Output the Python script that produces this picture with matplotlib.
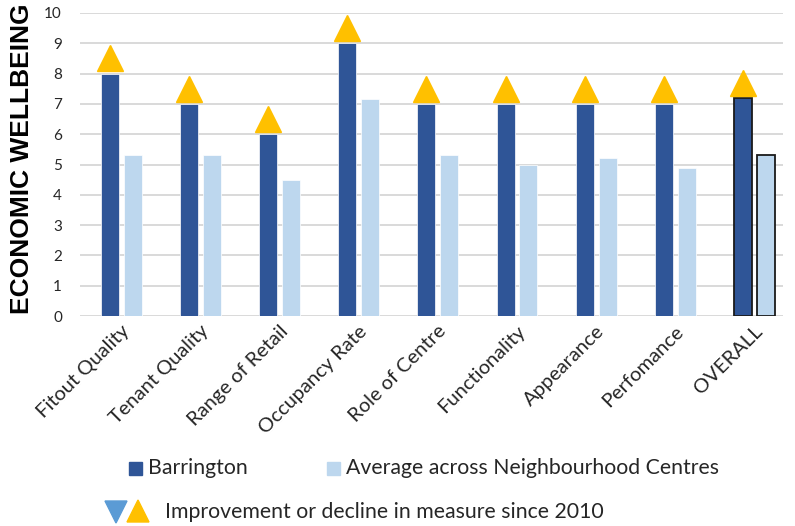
import matplotlib
matplotlib.use("Agg")
import matplotlib.pyplot as plt
from matplotlib.patches import Rectangle, Polygon
import matplotlib.transforms as mtransforms
import numpy as np

categories = ["Fitout Quality", "Tenant Quality", "Range of Retail", "Occupancy Rate",
              "Role of Centre", "Functionality", "Appearance", "Perfomance", "OVERALL"]
barrington = [8, 7, 6, 9, 7, 7, 7, 7, 7.2]
average = [5.3, 5.3, 4.5, 7.15, 5.3, 5.0, 5.2, 4.9, 5.3]
trend = ["up"] * 9  # all improved since 2010

DARK = "#2F5597"
LIGHT = "#BDD7EE"
YELLOW = "#FFC000"
BLUE_TRI = "#5B9BD5"
TXT = "#262626"

W, H = 795, 526
fig = plt.figure(figsize=(W / 100, H / 100), dpi=100)

def px(x0, y0, x1, y1):
    return [x0 / W, 1 - y1 / H, (x1 - x0) / W, (y1 - y0) / H]

ax = fig.add_axes(px(80, 13, 783, 316))
x = np.arange(len(categories))
bw = 0.228
off = 0.145

for i in range(len(categories)):
    overall = categories[i] == "OVERALL"
    ec = "#1a1a1a" if overall else "white"
    lw = 1.3 if overall else 0.5
    ax.bar(x[i] - off, barrington[i], width=bw, color=DARK, edgecolor=ec, linewidth=lw, zorder=3)
    ax.bar(x[i] + off, average[i], width=bw, color=LIGHT, edgecolor=ec, linewidth=lw, zorder=3)

# trend triangles placed just above the Barrington bars
for i in range(len(categories)):
    marker = "^" if trend[i] == "up" else "v"
    col = YELLOW if trend[i] == "up" else BLUE_TRI
    ax.plot(x[i] - off, barrington[i] + 0.5, marker=marker, markersize=19,
            color=col, markeredgecolor=col, linestyle="none", clip_on=False, zorder=4)

ax.set_ylim(0, 10)
ax.set_xlim(-0.525, 8.363)
ax.set_yticks(range(0, 11))
ax.yaxis.grid(True, color="#D9D9D9", linewidth=1.4, zorder=0)
ax.set_axisbelow(True)
for s in ax.spines.values():
    s.set_visible(False)
ax.tick_params(axis="y", length=0, pad=13, labelsize=11, labelcolor=TXT)
ax.tick_params(axis="x", length=0, pad=9, labelsize=14.5, labelcolor=TXT)
for lab in ax.get_yticklabels():
    lab.set_fontfamily("Lato")
ax.set_xticks(x)
ax.set_xticklabels(categories, rotation=45, ha="right", va="center", rotation_mode="anchor",
                   fontfamily="Lato")
shift = mtransforms.ScaledTranslation(4 / 72, 0, fig.dpi_scale_trans)
for lab in ax.get_xticklabels():
    lab.set_transform(lab.get_transform() + shift)

fig.text(22 / W, 1 - 159 / H, "ECONOMIC WELLBEING", rotation=90, ha="center", va="center",
         fontsize=19, fontweight="bold", fontfamily="Liberation Sans", color="black")

# legend
lax = fig.add_axes([0, 0, 1, 1])
lax.set_xlim(0, W)
lax.set_ylim(H, 0)
lax.axis("off")
lax.add_patch(Rectangle((129, 462), 13, 13, color=DARK))
lax.text(148, 468.5, "Barrington", fontsize=15.3, fontfamily="Lato", va="center", ha="left", color=TXT)
lax.add_patch(Rectangle((327, 462), 13, 13, color=LIGHT))
lax.text(346, 468.5, "Average across Neighbourhood Centres", fontsize=15.3, fontfamily="Lato",
         va="center", ha="left", color=TXT)
lax.add_patch(Polygon([(105, 501), (127, 501), (116, 523)], color=BLUE_TRI))
lax.add_patch(Polygon([(127, 522), (149, 522), (138, 500)], color=YELLOW))
lax.text(165, 512, "Improvement or decline in measure since 2010", fontsize=15.3, fontfamily="Lato",
         va="center", ha="left", color=TXT)

fig.savefig("out.png", dpi=100)
